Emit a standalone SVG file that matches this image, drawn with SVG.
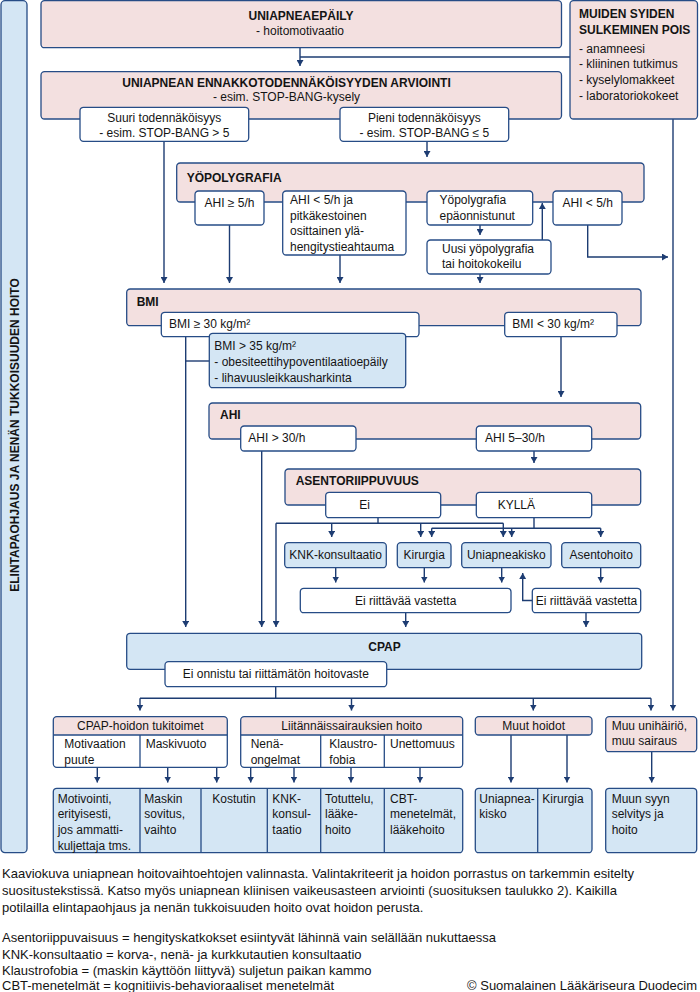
<svg xmlns="http://www.w3.org/2000/svg" width="700" height="992" viewBox="0 0 700 992">
<defs>
<style>
.pk{fill:#f3e0e0;stroke:#264c86;stroke-width:1.3}
.bl{fill:#d4e6f4;stroke:#264c86;stroke-width:1.3}
.wh{fill:#ffffff;stroke:#264c86;stroke-width:1.3}
.ol{fill:none;stroke:#264c86;stroke-width:1.3}
.dv{stroke:#264c86;stroke-width:1.3}
.ph{fill:#f3e0e0;stroke:none}
.ln{fill:none;stroke:#1d3c72;stroke-width:1.4}
.ar{fill:none;stroke:#1d3c72;stroke-width:1.4;marker-end:url(#ah)}
text{font-family:"Liberation Sans",Arial,sans-serif;font-size:12px;fill:#141414}
.b{font-weight:bold}
.c{text-anchor:middle}
.cap{font-size:13px}
</style>
<marker id="ah" viewBox="0 0 6 7" refX="6" refY="3.5" markerWidth="6" markerHeight="7" markerUnits="userSpaceOnUse" orient="auto">
<path d="M0,0 L6,3.5 L0,7 Z" fill="#1d3c72"/>
</marker>
</defs>

<g id="lifestyle">
<rect class="bl" x="1" y="0.7" width="26" height="852" rx="4"/>
<text class="b c" transform="translate(18.5,435) rotate(-90)">ELINTAPAOHJAUS JA NENÄN TUKKOISUUDEN HOITO</text>
</g>

<g id="connectors">
<path class="ar" d="M300,47.7 V66"/>
<path class="ln" d="M300,57 H570"/>
<path class="ar" d="M164,141.3 V283"/>
<path class="ar" d="M427,141.3 V157"/>
<path class="ar" d="M229.5,225 V283"/>
<path class="ar" d="M340,255 V283"/>
<path class="ar" d="M480,225 V235"/>
<path class="ar" d="M542.3,240 V203"/>
<path class="ar" d="M480,274 V283"/>
<path class="ar" d="M587.7,225 V257 H668"/>
<path class="ar" d="M673,119 V710.5"/>
<path class="ar" d="M185.7,336.7 V627"/>
<path class="ln" d="M185.7,361 H209.3"/>
<path class="ar" d="M561,336.7 V397"/>
<path class="ar" d="M261.7,451 V627"/>
<path class="ar" d="M534,451 V463"/>
<path class="ln" d="M378,517.7 V523.3"/>
<path class="ln" d="M276,523.3 H503.3"/>
<path class="ar" d="M276,523.3 V627"/>
<path class="ar" d="M331.7,523.3 V537"/>
<path class="ar" d="M420.7,523.3 V537"/>
<path class="ar" d="M503.3,523.3 V537"/>
<path class="ln" d="M534,517.7 V528.3"/>
<path class="ln" d="M431.7,528.3 H600.7"/>
<path class="ar" d="M431.7,528.3 V537"/>
<path class="ar" d="M511.7,528.3 V537"/>
<path class="ar" d="M600.7,528.3 V537"/>
<path class="ar" d="M335.7,567.7 V582.5"/>
<path class="ar" d="M424.3,567.7 V582.5"/>
<path class="ar" d="M501.7,567.7 V582.5"/>
<path class="ar" d="M600.7,567.7 V582.5"/>
<path class="ar" d="M532.3,600.5 H522.7 V573"/>
<path class="ar" d="M405.7,612.7 V627"/>
<path class="ar" d="M586,612.7 V627"/>
<path class="ln" d="M275.7,686.7 V698.3"/>
<path class="ln" d="M140,698.3 H651"/>
<path class="ar" d="M140,698.3 V710.5"/>
<path class="ar" d="M351.5,698.3 V710.5"/>
<path class="ar" d="M533.3,698.3 V710.5"/>
<path class="ar" d="M651,698.3 V710.5"/>
<path class="ar" d="M97.3,767.3 V782.5"/>
<path class="ar" d="M167.7,767.3 V782.5"/>
<path class="ar" d="M216.7,767.3 V782.5"/>
<path class="ar" d="M250.7,767.3 V782.5"/>
<path class="ar" d="M294,767.3 V782.5"/>
<path class="ar" d="M351,767.3 V782.5"/>
<path class="ar" d="M420,767.3 V782.5"/>
<path class="ar" d="M511,735 V782.5"/>
<path class="ar" d="M567,735 V782.5"/>
<path class="ar" d="M651.7,751.7 V782.5"/>
</g>

<g id="suspicion">
<rect class="pk" x="41" y="0.7" width="520.5" height="47" rx="3.5"/>
<text class="b c" x="301" y="19.5">UNIAPNEAEPÄILY</text>
<text class="c" x="300" y="34.5">- hoitomotivaatio</text>
</g>

<g id="other-causes">
<rect class="pk" x="570" y="0.7" width="127.5" height="118.3" rx="3.5"/>
<text class="b" x="579" y="18.3">MUIDEN SYIDEN</text>
<text class="b" x="579" y="34">SULKEMINEN POIS</text>
<text x="579" y="52.7">- anamneesi</text>
<text x="579" y="68.3">- kliininen tutkimus</text>
<text x="579" y="84">- kyselylomakkeet</text>
<text x="579" y="100">- laboratoriokokeet</text>
</g>

<g id="pretest">
<rect class="pk" x="41" y="71.7" width="520.5" height="47.3" rx="3.5"/>
<text class="b c" x="286.5" y="86.5">UNIAPNEAN ENNAKKOTODENNÄKÖISYYDEN ARVIOINTI</text>
<text class="c" x="286.5" y="100.5">- esim. STOP-BANG-kysely</text>
</g>
<g id="high-prob">
<rect class="wh" x="80" y="107.3" width="168.7" height="34" rx="3.5"/>
<text class="c" x="164.3" y="121.5">Suuri todennäköisyys</text>
<text class="c" x="164.3" y="136.5">- esim. STOP-BANG &gt; 5</text>
</g>
<g id="low-prob">
<rect class="wh" x="340" y="107.3" width="168.7" height="34" rx="3.5"/>
<text class="c" x="424.3" y="121.5">Pieni todennäköisyys</text>
<text class="c" x="424.3" y="136.5">- esim. STOP-BANG ≤ 5</text>
</g>

<g id="polygraphy">
<rect class="pk" x="176.7" y="163" width="467.3" height="39" rx="3.5"/>
<text class="b" x="186.7" y="181.5">YÖPOLYGRAFIA</text>
</g>
<g id="ahi-ge5">
<rect class="wh" x="195" y="191" width="69" height="34" rx="3.5"/>
<text class="c" x="229.5" y="206.5">AHI ≥ 5/h</text>
</g>
<g id="ahi-lt5-partial">
<rect class="wh" x="282.7" y="191" width="123.3" height="64" rx="3.5"/>
<text x="290" y="204">AHI &lt; 5/h ja</text>
<text x="290" y="219.5">pitkäkestoinen</text>
<text x="290" y="235">osittainen ylä-</text>
<text x="290" y="250.5">hengitystieahtauma</text>
</g>
<g id="poly-failed">
<rect class="wh" x="427" y="191" width="105.7" height="34" rx="3.5"/>
<text x="439.5" y="204">Yöpolygrafia</text>
<text x="439.5" y="219.5">epäonnistunut</text>
</g>
<g id="ahi-lt5">
<rect class="wh" x="553" y="191" width="69" height="34" rx="3.5"/>
<text class="c" x="587.7" y="206.5">AHI &lt; 5/h</text>
</g>
<g id="new-poly">
<rect class="wh" x="427" y="240" width="124" height="34" rx="3.5"/>
<text x="442" y="252.7">Uusi yöpolygrafia</text>
<text x="442" y="268.3">tai hoitokokeilu</text>
</g>

<g id="bmi">
<rect class="pk" x="126.7" y="289" width="514.3" height="36.7" rx="3.5"/>
<text class="b" x="136.7" y="305.7">BMI</text>
</g>
<g id="bmi-ge30">
<rect class="wh" x="161.3" y="312.3" width="257.7" height="24.4" rx="3.5"/>
<text x="169" y="328.3">BMI ≥ 30 kg/m²</text>
</g>
<g id="bmi-lt30">
<rect class="wh" x="504.7" y="312.3" width="112.3" height="24.4" rx="3.5"/>
<text x="512.3" y="328.3">BMI &lt; 30 kg/m²</text>
</g>
<g id="bmi-gt35">
<rect class="bl" x="209.3" y="333.3" width="196.4" height="54.4" rx="3.5"/>
<text x="214.3" y="350">BMI &gt; 35 kg/m²</text>
<text x="214.3" y="366">- obesiteettihypoventilaatioepäily</text>
<text x="214.3" y="381.7">- lihavuusleikkausharkinta</text>
</g>

<g id="ahi">
<rect class="pk" x="209" y="403" width="431.7" height="36" rx="3.5"/>
<text class="b" x="220" y="419.3">AHI</text>
</g>
<g id="ahi-gt30">
<rect class="wh" x="240.7" y="426" width="115.3" height="25" rx="3.5"/>
<text x="248.3" y="442.3">AHI &gt; 30/h</text>
</g>
<g id="ahi-5-30">
<rect class="wh" x="476.3" y="426" width="115.4" height="25" rx="3.5"/>
<text x="485" y="442.3">AHI 5–30/h</text>
</g>

<g id="positional">
<rect class="pk" x="285" y="469" width="355.7" height="36" rx="3.5"/>
<text class="b" x="295.7" y="485">ASENTORIIPPUVUUS</text>
</g>
<g id="pos-no">
<rect class="wh" x="325.7" y="492.3" width="115" height="25.4" rx="3.5"/>
<text x="359.3" y="509">Ei</text>
</g>
<g id="pos-yes">
<rect class="wh" x="476.3" y="492.3" width="115.4" height="25.4" rx="3.5"/>
<text x="497.7" y="508.7">KYLLÄ</text>
</g>

<g id="knk">
<rect class="bl" x="284.7" y="542.7" width="101.6" height="25" rx="3.5"/>
<text class="c" x="335.6" y="559.3">KNK-konsultaatio</text>
</g>
<g id="surgery">
<rect class="bl" x="397.3" y="542.7" width="53.7" height="25" rx="3.5"/>
<text class="c" x="424.2" y="559.3">Kirurgia</text>
</g>
<g id="splint">
<rect class="bl" x="461.7" y="542.7" width="89.3" height="25" rx="3.5"/>
<text class="c" x="506.3" y="559.3">Uniapneakisko</text>
</g>
<g id="positional-therapy">
<rect class="bl" x="561.7" y="542.7" width="79" height="25" rx="3.5"/>
<text class="c" x="601.2" y="559.3">Asentohoito</text>
</g>
<g id="no-response-1">
<rect class="wh" x="300.3" y="588.3" width="210.7" height="24.4" rx="3.5"/>
<text class="c" x="405.7" y="605">Ei riittävää vastetta</text>
</g>
<g id="no-response-2">
<rect class="wh" x="532.3" y="588.3" width="108.4" height="24.4" rx="3.5"/>
<text class="c" x="586.5" y="605">Ei riittävää vastetta</text>
</g>

<g id="cpap">
<rect class="bl" x="126.7" y="633.3" width="515" height="36" rx="3.5"/>
<text class="b c" x="384.5" y="650.5">CPAP</text>
</g>
<g id="cpap-fail">
<rect class="wh" x="165" y="661.7" width="221.7" height="25" rx="3.5"/>
<text class="c" x="275.8" y="678.3">Ei onnistu tai riittämätön hoitovaste</text>
</g>

<g id="cpap-support">
<rect x="53.3" y="716.7" width="174" height="50.6" rx="3.5" fill="#ffffff"/>
<path class="ph" d="M53.3,735 V720.2 Q53.3,716.7 56.8,716.7 H223.8 Q227.3,716.7 227.3,720.2 V735 Z"/>
<path class="dv" d="M53.3,735 H227.3 M140,735 V767.3"/>
<rect class="ol" x="53.3" y="716.7" width="174" height="50.6" rx="3.5"/>
<text class="c" x="140.3" y="730">CPAP-hoidon tukitoimet</text>
<text x="64.3" y="748.3">Motivaation</text>
<text x="64.3" y="763.5">puute</text>
<text x="145.7" y="748.3">Maskivuoto</text>
</g>

<g id="comorbidity">
<rect x="240.7" y="716.7" width="222" height="50.6" rx="3.5" fill="#ffffff"/>
<path class="ph" d="M240.7,735 V720.2 Q240.7,716.7 244.2,716.7 H459.2 Q462.7,716.7 462.7,720.2 V735 Z"/>
<path class="dv" d="M240.7,735 H462.7 M320.7,735 V767.3 M384.3,735 V767.3"/>
<rect class="ol" x="240.7" y="716.7" width="222" height="50.6" rx="3.5"/>
<text class="c" x="351.7" y="730">Liitännäissairauksien hoito</text>
<text x="250.7" y="748.3">Nenä-</text>
<text x="250.7" y="763.5">ongelmat</text>
<text x="329.3" y="748.3">Klaustro-</text>
<text x="329.3" y="763.5">fobia</text>
<text x="390" y="748.3">Unettomuus</text>
</g>

<g id="other-treatments">
<rect class="pk" x="475.3" y="716.7" width="116.7" height="18.3" rx="3.5"/>
<text class="c" x="533.7" y="730">Muut hoidot</text>
</g>

<g id="other-disorder">
<rect class="pk" x="605.7" y="716.7" width="91" height="35" rx="3.5"/>
<text x="611.7" y="730">Muu unihäiriö,</text>
<text x="611.7" y="745.3">muu sairaus</text>
</g>

<g id="results-a">
<rect class="bl" x="53.3" y="788.3" width="409.4" height="64.4" rx="3.5"/>
<path class="dv" d="M140,788.3 V852.7 M201,788.3 V852.7 M267.3,788.3 V852.7 M320.7,788.3 V852.7 M384.3,788.3 V852.7"/>
<text x="57.7" y="802.7">Motivointi,</text>
<text x="57.7" y="818.3">erityisesti,</text>
<text x="57.7" y="834">jos ammatti-</text>
<text x="57.7" y="849.7">kuljettaja tms.</text>
<text x="144.3" y="802.7">Maskin</text>
<text x="144.3" y="818.3">sovitus,</text>
<text x="144.3" y="834">vaihto</text>
<text class="c" x="234" y="802.7">Kostutin</text>
<text x="272.3" y="802.7">KNK-</text>
<text x="272.3" y="818.3">konsul-</text>
<text x="272.3" y="834">taatio</text>
<text x="325" y="802.7">Totuttelu,</text>
<text x="325" y="818.3">lääke-</text>
<text x="325" y="834">hoito</text>
<text x="390" y="802.7">CBT-</text>
<text x="390" y="818.3">menetelmät,</text>
<text x="390" y="834">lääkehoito</text>
</g>

<g id="results-b">
<rect class="bl" x="475.3" y="788.3" width="116.7" height="64.4" rx="3.5"/>
<path class="dv" d="M537.7,788.3 V852.7"/>
<text x="479.3" y="802.7">Uniapnea-</text>
<text x="479.3" y="818.3">kisko</text>
<text x="542.3" y="802.7">Kirurgia</text>
</g>

<g id="results-c">
<rect class="bl" x="605.7" y="788.3" width="91" height="64.4" rx="3.5"/>
<text x="611.7" y="802.7">Muun syyn</text>
<text x="611.7" y="818.3">selvitys ja</text>
<text x="611.7" y="834">hoito</text>
</g>

<g id="caption">
<text class="cap" x="2" y="877.5">Kaaviokuva uniapnean hoitovaihtoehtojen valinnasta. Valintakriteerit ja hoidon porrastus on tarkemmin esitelty</text>
<text class="cap" x="2" y="894.5">suositustekstissä. Katso myös uniapnean kliinisen vaikeusasteen arviointi (suosituksen taulukko 2). Kaikilla</text>
<text class="cap" x="2" y="911.5">potilailla elintapaohjaus ja nenän tukkoisuuden hoito ovat hoidon perusta.</text>
<text class="cap" x="2" y="942">Asentoriippuvaisuus = hengityskatkokset esiintyvät lähinnä vain selällään nukuttaessa</text>
<text class="cap" x="2" y="958.5">KNK-konsultaatio = korva-, nenä- ja kurkkutautien konsultaatio</text>
<text class="cap" x="2" y="974.5">Klaustrofobia = (maskin käyttöön liittyvä) suljetun paikan kammo</text>
<text class="cap" x="2" y="989.5">CBT-menetelmät = kognitiivis-behavioraaliset menetelmät</text>
<text class="cap" x="697" y="989.5" text-anchor="end">© Suomalainen Lääkäriseura Duodecim</text>
</g>
</svg>
